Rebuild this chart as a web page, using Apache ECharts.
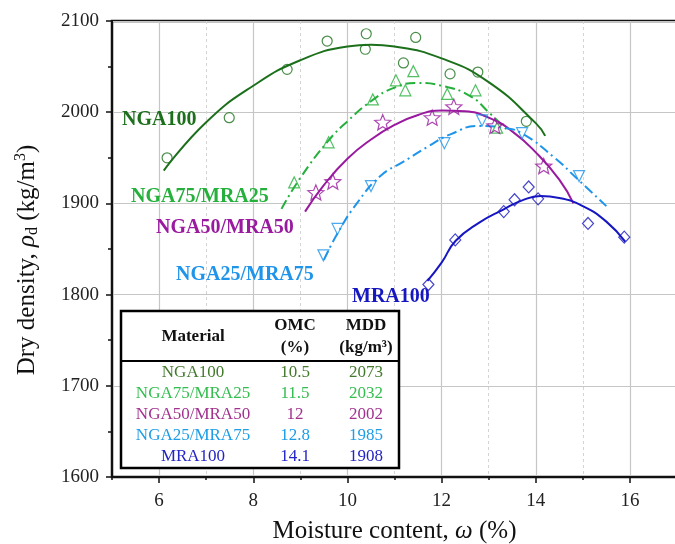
<!DOCTYPE html>
<html>
<head>
<meta charset="utf-8">
<script src="https://cdn.jsdelivr.net/npm/echarts@6.0.0/dist/echarts.min.js"></script>
<style>
  html, body { margin: 0; padding: 0; background: #fff; }
  #chart { width: 675px; height: 544px; }
</style>
</head>
<body>
<div id="chart"></div>
<script>
// measured points (moisture %, dry density kg/m3)
const nga100X = [6.17, 7.49, 8.72, 9.57, 10.38, 10.40, 11.19, 11.45, 12.18, 12.77, 13.80]
const nga100Y = [1950, 1994, 2047, 2078, 2069, 2086, 2054, 2082, 2042, 2044, 1990]
const nga75X = [8.87, 9.60, 10.54, 11.03, 11.23, 11.40, 12.12, 12.72, 13.18]
const nga75Y = [1923, 1967, 2014, 2035, 2024, 2045, 2020, 2024, 1983]
const nga50X = [9.33, 9.69, 10.75, 11.80, 12.26, 13.13, 14.17]
const nga50Y = [1912, 1924, 1989, 1994, 2006, 1985, 1941]
const nga25X = [9.49, 9.79, 10.50, 12.06, 12.86, 13.71, 14.92]
const nga25Y = [1843, 1872, 1919, 1966, 1991, 1977, 1930]
const mra100X = [11.72, 12.29, 13.32, 13.55, 13.85, 14.05, 15.11, 15.88]
const mra100Y = [1811, 1860, 1891, 1904, 1918, 1905, 1878, 1863]

// fitted curves
const fit100X = [6.1, 7, 8, 9, 10, 10.5, 11, 12, 13, 14, 14.2]
const fit100Y = [1936, 1989, 2029, 2057, 2072, 2074, 2072, 2059, 2033, 1988, 1974]
const fit75X = [8.6, 9, 9.6, 10, 10.5, 11, 11.5, 12, 12.6, 13, 13.4]
const fit75Y = [1894, 1928, 1969, 1990, 2012, 2027, 2032, 2029, 2018, 2000, 1980]
const fit50X = [9.1, 9.5, 10, 10.5, 11, 11.5, 12, 12.5, 13, 13.5, 14, 14.5, 14.8]
const fit50Y = [1891, 1920, 1949, 1970, 1986, 1997, 2002, 2001, 1994, 1979, 1956, 1926, 1900]
const fit25X = [9.5, 9.8, 10.2, 10.7, 11.2, 11.7, 12.2, 12.8, 13.3, 13.7, 14.4, 14.9, 15.5]
const fit25Y = [1838, 1868, 1900, 1930, 1946, 1962, 1976, 1985, 1983, 1977, 1950, 1926, 1897]
const fitMraX = [11.7, 12, 12.3, 12.8, 13.3, 13.7, 14.1, 14.5, 15, 15.5, 15.9]
const fitMraY = [1815, 1835, 1859, 1879, 1893, 1903, 1908, 1906, 1897, 1880, 1858]

const majorX = [6, 8, 10, 12, 14, 16]

// table
const materials = ['NGA100', 'NGA75/MRA25', 'NGA50/MRA50', 'NGA25/MRA75', 'MRA100']
const omcVals = ['10.5', '11.5', '12', '12.8', '14.1']
const mddVals = ['2073', '2032', '2002', '1985', '1908']

const colors = ['#1c701c', '#25b03c', '#991a9f', '#1e94ea', '#1717c2']
const tableColors = ['#437a2c', '#33be4f', '#a2318f', '#1c9de6', '#2424c6']

const serif = '"Liberation Serif", "Times New Roman", serif'
const star = 'path://M50 0L62.9 32.2L97.6 34.5L70.9 56.8L79.4 90.5L50 72L20.6 90.5L29.1 56.8L2.4 34.5L37.1 32.2Z'

const pairs = (xs, ys) => xs.map((x, i) => [x, ys[i]])

function curve(xs, ys, color, dashed) {
  return {
    type: 'line', data: pairs(xs, ys), smooth: 0.5,
    showSymbol: false, silent: true, z: 2,
    lineStyle: {color: color, width: 2, type: dashed ? [10, 4, 2, 4] : 'solid'}
  }
}

function points(xs, ys, color, symbol, size, rotate) {
  return {
    type: 'scatter', data: pairs(xs, ys), symbol: symbol, symbolSize: size,
    symbolRotate: rotate || 0, symbolKeepAspect: true, silent: true, z: 3,
    itemStyle: {color: 'rgba(0,0,0,0)', borderColor: color, borderWidth: 1.2}
  }
}

// labels on the plot
const plotLabels = [
  {text: 'NGA100', x: 122, y: 120},
  {text: 'NGA75/MRA25', x: 131, y: 197},
  {text: 'NGA50/MRA50', x: 156, y: 228},
  {text: 'NGA25/MRA75', x: 176, y: 275},
  {text: 'MRA100', x: 352, y: 297}
]

const graphics = plotLabels.map((l, i) => ({
  type: 'text', z: 10, x: l.x, y: l.y,
  style: {text: l.text, fill: colors[i], font: 'bold 20px ' + serif, align: 'left', verticalAlign: 'middle'}
}))

const tbl = {left: 121, top: 311, right: 399, bottom: 468, sep: 361}
const colX = [193, 295, 366]
const rowY = [373, 394, 415, 436, 457]

graphics.push({
  type: 'rect', z: 9,
  shape: {x: tbl.left, y: tbl.top, width: tbl.right - tbl.left, height: tbl.bottom - tbl.top},
  style: {fill: '#fff', stroke: '#000', lineWidth: 2.5}
})
graphics.push({
  type: 'line', z: 10,
  shape: {x1: tbl.left, y1: tbl.sep, x2: tbl.right, y2: tbl.sep},
  style: {stroke: '#000', lineWidth: 2}
})
const head = (text, x, y) => ({
  type: 'text', z: 11, x: x, y: y,
  style: {text: text, fill: '#111', font: 'bold 17px ' + serif, align: 'center', verticalAlign: 'middle'}
})
graphics.push(head('Material', colX[0], 337))
graphics.push(head('OMC', colX[1], 326))
graphics.push(head('(%)', colX[1], 348))
graphics.push(head('MDD', colX[2], 326))
graphics.push(head('(kg/m³)', colX[2], 348))
materials.forEach((m, i) => {
  [m, omcVals[i], mddVals[i]].forEach((t, j) => {
    graphics.push({
      type: 'text', z: 11, x: colX[j], y: rowY[i],
      style: {text: t, fill: tableColors[i], font: '17px ' + serif, align: 'center', verticalAlign: 'middle'}
    })
  })
})

const option = {
  animation: false,
  backgroundColor: '#fff',
  grid: {
    left: 112, width: 565, top: 21, bottom: 67, outerBoundsMode: 'none',
    show: true, borderColor: '#111', borderWidth: 2.5
  },
  xAxis: [
    {
      type: 'value', min: 5, max: 17, interval: 1, position: 'bottom',
      axisLine: {lineStyle: {color: '#111', width: 2}},
      axisTick: {length: 3, lineStyle: {color: '#111', width: 1.5}},
      axisLabel: {show: false},
      splitLine: {lineStyle: {color: '#d4d4d4', width: 1, type: [3, 3]}},
      name: '{t|Moisture content, }{i|ω}{t| (%)}',
      nameLocation: 'middle', nameGap: 42,
      nameTextStyle: {
        rich: {
          t: {fontFamily: serif, fontSize: 25, color: '#111'},
          i: {fontFamily: serif, fontSize: 25, fontStyle: 'italic', color: '#111'}
        }
      }
    },
    {
      type: 'value', min: 5, max: 17, interval: 1, position: 'bottom',
      axisLine: {show: false},
      axisTick: {customValues: majorX, length: 6, lineStyle: {color: '#111', width: 1.5}},
      axisLabel: {
        customValues: majorX, fontFamily: serif, fontSize: 19, color: '#222', margin: 15,
        formatter: v => (v % 2 === 0 ? String(v) : '')
      },
      splitLine: {show: true, customValues: majorX, lineStyle: {color: '#c6c6c6', width: 1.2}}
    }
  ],
  yAxis: {
    type: 'value', min: 1600, max: 2100, interval: 100,
    axisLine: {show: true, lineStyle: {color: '#111', width: 2}},
    axisTick: {show: true, length: 6, lineStyle: {color: '#111', width: 1.5}},
    minorTick: {show: true, splitNumber: 2, length: 4, lineStyle: {color: '#111', width: 1.5}},
    axisLabel: {fontFamily: serif, fontSize: 19, color: '#222', margin: 13, formatter: v => String(v)},
    splitLine: {lineStyle: {color: '#c6c6c6', width: 1.2}},
    name: '{t|Dry density, }{i|ρ}{s|d}{t| (kg/m}{p|3}{t|)}',
    nameLocation: 'middle', nameGap: 71,
    nameTextStyle: {
      padding: [0, 22, 0, 0],
      rich: {
        t: {fontFamily: serif, fontSize: 25, color: '#111', lineHeight: 28},
        i: {fontFamily: serif, fontSize: 25, fontStyle: 'italic', color: '#111', lineHeight: 28},
        s: {fontFamily: serif, fontSize: 16, color: '#111', verticalAlign: 'bottom', lineHeight: 16},
        p: {fontFamily: serif, fontSize: 16, color: '#111', verticalAlign: 'top', lineHeight: 16}
      }
    }
  },
  series: [
    curve(fit100X, fit100Y, colors[0], false),
    curve(fit75X, fit75Y, colors[1], true),
    curve(fit50X, fit50Y, colors[2], false),
    curve(fit25X, fit25Y, colors[3], true),
    curve(fitMraX, fitMraY, colors[4], false),
    points(nga100X, nga100Y, colors[0], 'circle', 10),
    points(nga75X, nga75Y, colors[1], 'triangle', 11),
    points(nga50X, nga50Y, colors[2], star, 16),
    points(nga25X, nga25Y, colors[3], 'triangle', 11, 180),
    points(mra100X, mra100Y, colors[4], 'diamond', [11, 12])
  ],
  graphic: graphics
}

const chart = echarts.init(document.getElementById('chart'))
chart.setOption(option)
</script>
</body>
</html>
